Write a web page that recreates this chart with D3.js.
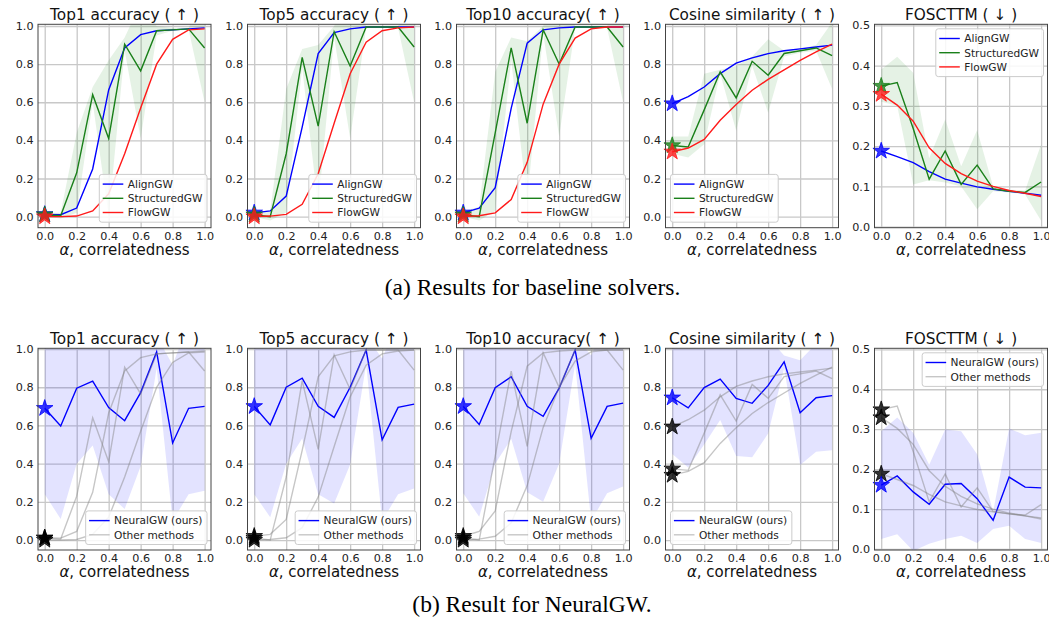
<!DOCTYPE html>
<html>
<head>
<meta charset="utf-8">
<script src="https://cdn.jsdelivr.net/npm/d3@7"></script>
<style>
body { margin: 0; background: #fff; }
svg { display: block; }
</style>
</head>
<body>
<svg id="fig" width="1049" height="622"></svg>
<script>
// x values (alpha, correlatedness) and tick labels
const alpha = [0, 0.1, 0.2, 0.3, 0.4, 0.5, 0.6, 0.7, 0.8, 0.9, 1.0];
const xTicks = [0, 0.2, 0.4, 0.6, 0.8, 1.0];
const accTicks = [0, 0.2, 0.4, 0.6, 0.8, 1.0];
const fosTicks = [0, 0.1, 0.2, 0.3, 0.4, 0.5];

// (a) baseline solvers
const t1Align = [0.012, 0.01, 0.045, 0.25, 0.665, 0.885, 0.955, 0.975, 0.98, 0.985, 0.99];
const t1Struct = [0.01, 0.005, 0.23, 0.64, 0.41, 0.905, 0.765, 0.975, 0.98, 0.985, 0.885];
const t1StructLo = [0.0, -0.01, 0.02, 0.6, 0.0, 0.87, 0.41, 0.95, 0.975, 0.98, 0.6];
const t1StructHi = [0.02, 0.02, 0.44, 0.68, 0.82, 0.94, 1.12, 1.0, 0.99, 0.99, 1.17];
const t1Flow = [0.0, 0.0, 0.003, 0.03, 0.12, 0.33, 0.57, 0.80, 0.93, 0.98, 0.985];

const t5Align = [0.02, 0.03, 0.108, 0.47, 0.855, 0.965, 0.985, 0.995, 0.995, 0.995, 0.995];
const t5Struct = [0.01, 0.0, 0.33, 0.835, 0.475, 0.97, 0.79, 0.995, 0.995, 0.995, 0.89];
const t5StructLo = [0.0, -0.02, 0.02, 0.78, 0.05, 0.94, 0.41, 0.99, 0.99, 0.99, 0.6];
const t5StructHi = [0.02, 0.03, 0.67, 0.88, 0.9, 1.0, 1.17, 1.0, 1.0, 1.0, 1.18];
const t5Flow = [0.0, 0.003, 0.012, 0.065, 0.225, 0.49, 0.75, 0.915, 0.975, 0.99, 0.995];

const t10Align = [0.02, 0.045, 0.152, 0.568, 0.91, 0.98, 0.99, 0.995, 0.995, 0.995, 0.995];
const t10Struct = [0.01, 0.0, 0.44, 0.885, 0.49, 0.98, 0.80, 0.995, 0.995, 0.995, 0.89];
const t10StructLo = [0.0, -0.02, 0.03, 0.82, 0.08, 0.96, 0.42, 0.99, 0.99, 0.99, 0.6];
const t10StructHi = [0.03, 0.05, 0.76, 0.94, 0.92, 1.0, 1.18, 1.0, 1.0, 1.0, 1.18];
const t10Flow = [0.0, 0.005, 0.02, 0.09, 0.285, 0.59, 0.80, 0.937, 0.985, 0.995, 0.995];

const cosAlign = [0.593, 0.63, 0.68, 0.75, 0.805, 0.833, 0.855, 0.87, 0.88, 0.89, 0.90];
const cosStruct = [0.373, 0.365, 0.56, 0.76, 0.623, 0.815, 0.742, 0.856, 0.87, 0.885, 0.845];
const cosStructLo = [0.33, 0.31, 0.38, 0.75, 0.45, 0.79, 0.545, 0.84, 0.86, 0.87, 0.67];
const cosStructHi = [0.42, 0.42, 0.75, 0.77, 0.79, 0.84, 0.93, 0.87, 0.88, 0.9, 1.02];
const cosFlow = [0.34, 0.36, 0.405, 0.506, 0.588, 0.663, 0.72, 0.77, 0.82, 0.864, 0.905];

const fosAlign = [0.188, 0.174, 0.159, 0.137, 0.118, 0.108, 0.099, 0.093, 0.088, 0.083, 0.078];
const fosStruct = [0.349, 0.358, 0.244, 0.118, 0.188, 0.105, 0.153, 0.094, 0.088, 0.085, 0.111];
const fosStructLo = [0.31, 0.30, 0.105, 0.115, 0.11, 0.10, 0.043, 0.088, 0.085, 0.08, 0.015];
const fosStructHi = [0.39, 0.422, 0.382, 0.17, 0.267, 0.15, 0.24, 0.10, 0.092, 0.09, 0.205];
const fosFlow = [0.329, 0.302, 0.262, 0.196, 0.157, 0.132, 0.113, 0.10, 0.09, 0.083, 0.075];

// (b) NeuralGW, mean and band
const nTop1 = [0.69, 0.597, 0.795, 0.832, 0.694, 0.625, 0.772, 0.985, 0.508, 0.69, 0.70];
const nTop1Lo = [0.24, 0.11, 0.40, 0.495, 0.24, 0.162, 0.387, 0.9, 0.1, 0.24, 0.258];
const nTop1Hi = [1.14, 1.084, 1.19, 1.169, 1.148, 1.088, 1.157, 1.07, 0.916, 1.14, 1.142];

const nTop5 = [0.70, 0.603, 0.80, 0.848, 0.70, 0.642, 0.80, 0.995, 0.525, 0.695, 0.712];
const nTop5Lo = [0.24, 0.12, 0.40, 0.532, 0.24, 0.192, 0.396, 0.92, 0.10, 0.24, 0.27];
const nTop5Hi = [1.16, 1.086, 1.2, 1.164, 1.16, 1.092, 1.204, 1.07, 0.95, 1.15, 1.154];

const nTop10 = [0.70, 0.605, 0.798, 0.855, 0.70, 0.648, 0.795, 0.995, 0.533, 0.70, 0.717];
const nTop10Lo = [0.245, 0.122, 0.40, 0.53, 0.25, 0.20, 0.40, 0.92, 0.10, 0.245, 0.28];
const nTop10Hi = [1.155, 1.088, 1.196, 1.18, 1.15, 1.096, 1.19, 1.07, 0.966, 1.155, 1.154];

const nCos = [0.745, 0.692, 0.798, 0.843, 0.742, 0.716, 0.81, 0.933, 0.667, 0.745, 0.756];
const nCosLo = [0.45, 0.38, 0.50, 0.628, 0.44, 0.433, 0.558, 0.90, 0.393, 0.462, 0.47];
const nCosHi = [1.04, 1.004, 1.096, 1.058, 1.044, 0.999, 1.062, 0.966, 0.941, 1.028, 1.042];

const nFos = [0.16, 0.183, 0.143, 0.112, 0.162, 0.164, 0.126, 0.072, 0.18, 0.155, 0.153];
const nFosLo = [0.025, 0.037, -0.005, 0.013, 0.025, 0.033, 0.015, 0.05, 0.058, 0.025, 0.015];
const nFosHi = [0.295, 0.329, 0.291, 0.211, 0.299, 0.295, 0.237, 0.094, 0.302, 0.285, 0.291];

const titles = ['Top1 accuracy ( \u2191 )', 'Top5 accuracy ( \u2191 )', 'Top10 accuracy( \u2191 )',
                'Cosine similarity ( \u2191 )', 'FOSCTTM ( \u2193 )'];
const baseNames = ['AlignGW', 'StructuredGW', 'FlowGW'];
const neuralNames = ['NeuralGW (ours)', 'Other methods'];
const captions = ['(a) Results for baseline solvers.', '(b) Result for NeuralGW.'];

const BLUE = '#0000ff', GREEN = '#1a801a', RED = '#ff1a1a', GREY = '#808080';
const FONT = 'DejaVu Sans, Verdana, sans-serif';

const colLeft = [38, 247.5, 456.5, 665.5, 874.5];
const PW = 173;
const rows = [
    { top: 24.3, h: 203.4, acc: [-0.058, 1.009] },
    { top: 348.3, h: 201.7, acc: [-0.052, 1.004] }
];

const svg = d3.select('#fig');
let clipCount = 0;

function panel(col, row, cfg) {
    const r = rows[row];
    const g = svg.append('g').attr('transform', 'translate(' + colLeft[col] + ',' + r.top + ')');
    const x = d3.scaleLinear().domain([-0.042, 1.04]).range([0, PW]);
    const yDom = cfg.fos ? [-0.0025, 0.5025] : r.acc;
    const y = d3.scaleLinear().domain(yDom).range([r.h, 0]);

    const id = 'clip' + (clipCount++);
    g.append('clipPath').attr('id', id)
        .append('rect').attr('width', PW).attr('height', r.h);

    // grid + tick labels
    const gx = g.append('g')
        .attr('transform', 'translate(0,' + r.h + ')')
        .call(d3.axisBottom(x).tickValues(xTicks).tickFormat(d3.format('.1f')).tickSize(-r.h).tickPadding(4.4));
    const gy = g.append('g')
        .call(d3.axisLeft(y).tickValues(cfg.fos ? fosTicks : accTicks).tickFormat(d3.format('.1f')).tickSize(-PW).tickPadding(4.5));
    [gx, gy].forEach(a => {
        a.select('.domain').remove();
        a.selectAll('line').attr('stroke', '#c8c8c8').attr('stroke-width', 1.3);
        a.selectAll('text').attr('font-size', 11.2).attr('font-family', FONT).attr('fill', '#222');
    });

    const plot = g.append('g').attr('clip-path', 'url(#' + id + ')');
    const area = (lo, hi) => d3.area().x((d, i) => x(alpha[i])).y0((d, i) => y(lo[i])).y1((d, i) => y(hi[i]))(alpha);
    const line = vals => d3.line().x((d, i) => x(alpha[i])).y(d => y(d))(vals);

    const star = d3.symbol().type(d3.symbolStar).size(85);
    const starAt = (v, color) => g.append('path')
        .attr('d', star)
        .attr('transform', 'translate(' + x(0) + ',' + y(v) + ')')
        .attr('fill', color).attr('fill-opacity', 0.8)
        .attr('stroke', color).attr('stroke-width', 0.8);

    if (row === 0) {
        plot.append('path').attr('d', area(cfg.structLo, cfg.structHi))
            .attr('fill', '#008000').attr('fill-opacity', 0.1);
        [[cfg.align, BLUE], [cfg.struct, GREEN], [cfg.flow, RED]].forEach(([v, c]) => {
            plot.append('path').attr('d', line(v)).attr('fill', 'none')
                .attr('stroke', c).attr('stroke-width', 1.4);
        });
        starAt(cfg.align[0], BLUE);
        starAt(cfg.struct[0], GREEN);
        starAt(cfg.flow[0], RED);
    } else {
        plot.append('path').attr('d', area(cfg.lo, cfg.hi))
            .attr('fill', '#0000ff').attr('fill-opacity', 0.11);
        plot.append('path').attr('d', line(cfg.mean)).attr('fill', 'none')
            .attr('stroke', BLUE).attr('stroke-width', 1.4);
        [cfg.align, cfg.struct, cfg.flow].forEach(v => {
            plot.append('path').attr('d', line(v)).attr('fill', 'none')
                .attr('stroke', GREY).attr('stroke-opacity', 0.45).attr('stroke-width', 1.4);
        });
        starAt(cfg.align[0], '#000');
        starAt(cfg.struct[0], '#000');
        starAt(cfg.flow[0], '#000');
        starAt(cfg.mean[0], BLUE);
    }

    // frame
    g.append('rect').attr('width', PW).attr('height', r.h)
        .attr('fill', 'none').attr('stroke', '#444').attr('stroke-width', 1);

    // title + x label
    g.append('text').attr('x', PW / 2).attr('y', -4)
        .attr('text-anchor', 'middle').attr('font-family', FONT).attr('font-size', 15.3).attr('fill', '#111')
        .text(titles[col]);
    const xl = g.append('text').attr('x', PW / 2).attr('y', r.h + 27)
        .attr('text-anchor', 'middle').attr('font-family', FONT).attr('font-size', 15).attr('fill', '#111');
    xl.append('tspan').attr('font-style', 'italic').text('\u03b1');
    xl.append('tspan').text(', correlatedness');

    // legend
    const entries = row === 0
        ? [[baseNames[0], BLUE, 1], [baseNames[1], GREEN, 1], [baseNames[2], RED, 1]]
        : [[neuralNames[0], BLUE, 1], [neuralNames[1], GREY, 0.45]];
    const lg = g.append('g');
    const box = lg.append('rect').attr('fill', '#fff').attr('fill-opacity', 0.85)
        .attr('stroke', '#cccccc').attr('stroke-width', 1).attr('rx', 2.5);
    let maxW = 0;
    entries.forEach(([label, c, op], i) => {
        const cy = 9.7 + i * 14.2;
        lg.append('line').attr('x1', 3.4).attr('x2', 24).attr('y1', cy).attr('y2', cy)
            .attr('stroke', c).attr('stroke-opacity', op).attr('stroke-width', 1.4);
        const t = lg.append('text').attr('x', 28.4).attr('y', cy).attr('dy', '0.36em')
            .attr('font-family', FONT).attr('font-size', 10.6).attr('fill', '#222').text(label);
        maxW = Math.max(maxW, t.node().getComputedTextLength());
    });
    const bw = 28.4 + maxW + 4.6;
    const bh = 19.4 + 14.2 * (entries.length - 1);
    box.attr('width', bw).attr('height', bh);
    let lx, ly;
    if (cfg.legend === 'lr') { lx = PW - 4 - bw; ly = r.h - 5.5 - bh; }
    else if (cfg.legend === 'll') { lx = 5; ly = r.h - 5.5 - bh; }
    else { lx = PW - 4 - bw; ly = 4.5; }
    lg.attr('transform', 'translate(' + lx + ',' + ly + ')');
}

const baseCfg = [
    { align: t1Align, struct: t1Struct, structLo: t1StructLo, structHi: t1StructHi, flow: t1Flow, legend: 'lr' },
    { align: t5Align, struct: t5Struct, structLo: t5StructLo, structHi: t5StructHi, flow: t5Flow, legend: 'lr' },
    { align: t10Align, struct: t10Struct, structLo: t10StructLo, structHi: t10StructHi, flow: t10Flow, legend: 'lr' },
    { align: cosAlign, struct: cosStruct, structLo: cosStructLo, structHi: cosStructHi, flow: cosFlow, legend: 'll' },
    { align: fosAlign, struct: fosStruct, structLo: fosStructLo, structHi: fosStructHi, flow: fosFlow, legend: 'ur', fos: true }
];
const neural = [[nTop1, nTop1Lo, nTop1Hi], [nTop5, nTop5Lo, nTop5Hi], [nTop10, nTop10Lo, nTop10Hi],
                [nCos, nCosLo, nCosHi], [nFos, nFosLo, nFosHi]];

baseCfg.forEach((c, i) => panel(i, 0, c));
baseCfg.forEach((c, i) => panel(i, 1, Object.assign({}, c,
    { mean: neural[i][0], lo: neural[i][1], hi: neural[i][2] })));

// captions
svg.append('text').attr('x', 532.5).attr('y', 294.5).attr('text-anchor', 'middle')
    .attr('font-family', 'Liberation Serif, Times New Roman, serif').attr('font-size', 23.5).attr('fill', '#000')
    .text(captions[0]);
svg.append('text').attr('x', 532).attr('y', 611.5).attr('text-anchor', 'middle')
    .attr('font-family', 'Liberation Serif, Times New Roman, serif').attr('font-size', 23.5).attr('fill', '#000')
    .text(captions[1]);
</script>
</body>
</html>
